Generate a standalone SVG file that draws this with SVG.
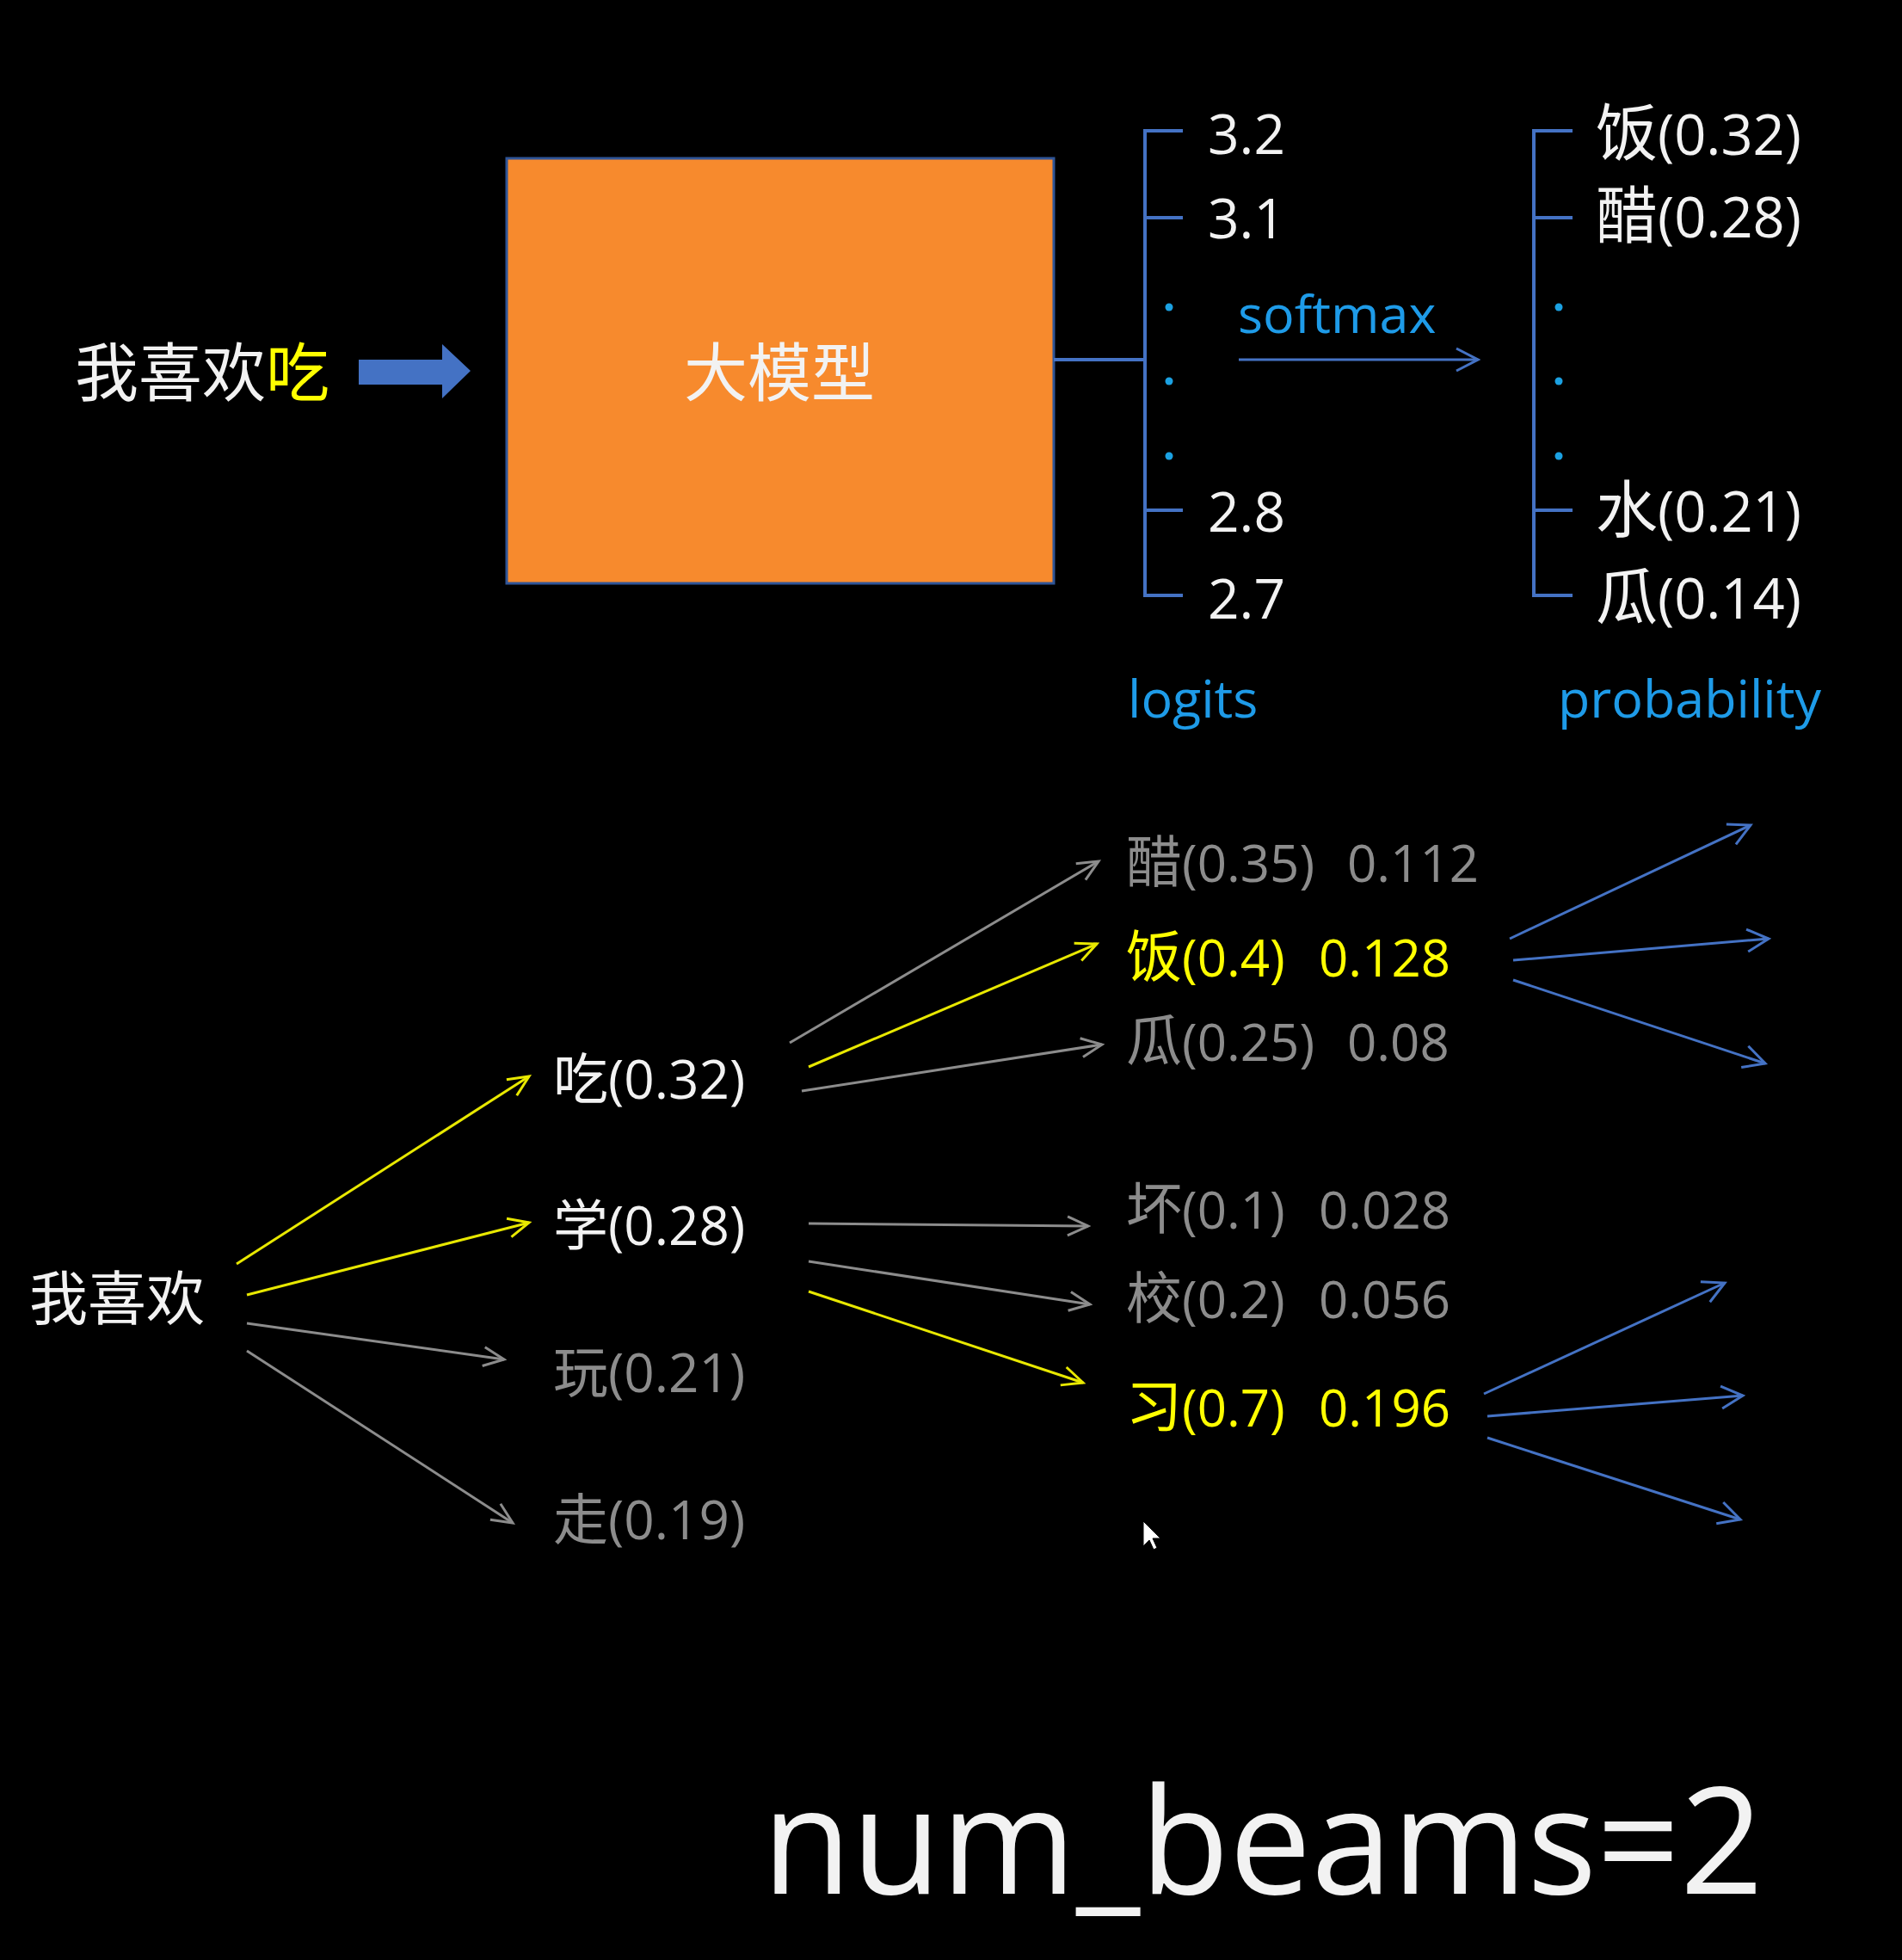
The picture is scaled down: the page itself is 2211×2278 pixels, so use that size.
<svg xmlns="http://www.w3.org/2000/svg" width="2211" height="2278" viewBox="0 0 2211 2278">
<style>
text { font-family: "Open Sans", "Noto Sans CJK SC", sans-serif; }
.w { fill: #F2F2F2; }
.y { fill: #FFFF00; }
.g { fill: #8C8C8C; }
.c { fill: #1E9BE8; }
.br { stroke: #4472C4; stroke-width: 4; fill: none; }
.ly { stroke: #E8E800; stroke-width: 3; fill: none; marker-end: url(#hy); }
.lg { stroke: #8C8C8C; stroke-width: 3; fill: none; marker-end: url(#hg); }
.lb { stroke: #4472C4; stroke-width: 3; fill: none; marker-end: url(#hb); }
</style>
<defs>
<marker id="hy" markerUnits="userSpaceOnUse" markerWidth="32" markerHeight="32" viewBox="0 0 32 32" refX="29" refY="16" orient="auto"><path d="M5,5 L29,16 L5,27" fill="none" stroke="#E8E800" stroke-width="3"/></marker>
<marker id="hg" markerUnits="userSpaceOnUse" markerWidth="32" markerHeight="32" viewBox="0 0 32 32" refX="29" refY="16" orient="auto"><path d="M5,5 L29,16 L5,27" fill="none" stroke="#8C8C8C" stroke-width="3"/></marker>
<marker id="hb" markerUnits="userSpaceOnUse" markerWidth="32" markerHeight="32" viewBox="0 0 32 32" refX="29" refY="16" orient="auto"><path d="M4,3 L29,16 L4,29" fill="none" stroke="#4472C4" stroke-width="3"/></marker>
</defs>
<rect x="0" y="0" width="2211" height="2278" fill="#000"/>

<g id="input">
<text x="87" y="460" font-size="74"><tspan class="w">我喜欢</tspan><tspan class="y">吃</tspan></text>
</g>
<g id="model">
<rect x="589" y="184" width="636" height="494" fill="#F78A2D" stroke="#2F5597" stroke-width="3"/>
<text x="906" y="460" font-size="74" text-anchor="middle" class="w">大模型</text>
</g>

<g id="logits">
<path class="br" d="M1375,152 H1331 V692 H1375 M1331,253 H1375 M1331,593 H1375"/>
<circle cx="1359" cy="357" r="4.5" fill="#1BA1E2"/>
<circle cx="1359" cy="443" r="4.5" fill="#1BA1E2"/>
<circle cx="1359" cy="530" r="4.5" fill="#1BA1E2"/>
<g class="w" font-size="64">
<text x="1404" y="179">3.2</text>
<text x="1404" y="277">3.1</text>
<text x="1404" y="618">2.8</text>
<text x="1404" y="719">2.7</text>
</g>
<text x="1311" y="834" font-size="61" class="c">logits</text>
</g>

<g id="probability">
<path class="br" d="M1828,152 H1783 V692 H1828 M1783,253 H1828 M1783,593 H1828"/>
<circle cx="1812" cy="357" r="4.5" fill="#1BA1E2"/>
<circle cx="1812" cy="443" r="4.5" fill="#1BA1E2"/>
<circle cx="1812" cy="530" r="4.5" fill="#1BA1E2"/>
<g class="w">
<text x="1855" y="180"><tspan font-size="72">饭</tspan><tspan font-size="65">(0.32)</tspan></text>
<text x="1855" y="276"><tspan font-size="72">醋</tspan><tspan font-size="65">(0.28)</tspan></text>
<text x="1855" y="618"><tspan font-size="72">水</tspan><tspan font-size="65">(0.21)</tspan></text>
<text x="1855" y="719"><tspan font-size="72">瓜</tspan><tspan font-size="65">(0.14)</tspan></text>
</g>
<text x="1811" y="834" font-size="61" class="c">probability</text>
</g>

<g id="softmax">
<text x="1439" y="387" font-size="61" class="c">softmax</text>
</g>

<g id="root">
<text x="34" y="1534" font-size="68" class="w">我喜欢</text>
</g>
<g id="l1-chi"><text x="643" y="1277" class="w"><tspan font-size="64">吃</tspan><tspan font-size="62">(0.32)</tspan></text></g>
<g id="l1-xue"><text x="643" y="1447" class="w"><tspan font-size="64">学</tspan><tspan font-size="62">(0.28)</tspan></text></g>
<g id="l1-wan"><text x="643" y="1618" class="g"><tspan font-size="64">玩</tspan><tspan font-size="62">(0.21)</tspan></text></g>
<g id="l1-zou"><text x="643" y="1789" class="g"><tspan font-size="64">走</tspan><tspan font-size="62">(0.19)</tspan></text></g>

<g id="l2-cu"><text x="1309" y="1025" class="g"><tspan font-size="65">醋</tspan><tspan font-size="60">(0.35)</tspan><tspan font-size="60" x="1566">0.112</tspan></text></g>
<g id="l2-fan"><text x="1309" y="1135" class="y"><tspan font-size="65">饭</tspan><tspan font-size="60">(0.4)</tspan><tspan font-size="60" x="1533">0.128</tspan></text></g>
<g id="l2-gua"><text x="1309" y="1233" class="g"><tspan font-size="65">瓜</tspan><tspan font-size="60">(0.25)</tspan><tspan font-size="60" x="1566">0.08</tspan></text></g>
<g id="l2-huai"><text x="1309" y="1428" class="g"><tspan font-size="65">坏</tspan><tspan font-size="60">(0.1)</tspan><tspan font-size="60" x="1533">0.028</tspan></text></g>
<g id="l2-xiao"><text x="1309" y="1532" class="g"><tspan font-size="65">校</tspan><tspan font-size="60">(0.2)</tspan><tspan font-size="60" x="1533">0.056</tspan></text></g>
<g id="l2-xi"><text x="1309" y="1658" class="y"><tspan font-size="65">习</tspan><tspan font-size="60">(0.7)</tspan><tspan font-size="60" x="1533">0.196</tspan></text></g>

<g id="connectors">
<polygon points="417,418 514,418 514,400 547,431 514,463 514,447 417,447" fill="#4472C4"/>
<line x1="1225" y1="418" x2="1331" y2="418" stroke="#4472C4" stroke-width="4"/>
<line class="lb" x1="1440" y1="418" x2="1718" y2="418"/>

<line class="ly" x1="275" y1="1469" x2="615" y2="1251"/>
<line class="ly" x1="287" y1="1505" x2="615" y2="1421"/>
<line class="lg" x1="287" y1="1538" x2="586" y2="1580"/>
<line class="lg" x1="287" y1="1570" x2="596" y2="1770"/>

<line class="lg" x1="918" y1="1212" x2="1277" y2="1001"/>
<line class="ly" x1="940" y1="1240" x2="1275" y2="1097"/>
<line class="lg" x1="932" y1="1268" x2="1281" y2="1214"/>

<line class="lg" x1="940" y1="1422" x2="1265" y2="1425"/>
<line class="lg" x1="940" y1="1466" x2="1267" y2="1516"/>
<line class="ly" x1="940" y1="1501" x2="1259" y2="1607"/>

<line class="lb" x1="1755" y1="1091" x2="2035" y2="959"/>
<line class="lb" x1="1759" y1="1116" x2="2056" y2="1091"/>
<line class="lb" x1="1759" y1="1139" x2="2052" y2="1236"/>
<line class="lb" x1="1725" y1="1620" x2="2005" y2="1491"/>
<line class="lb" x1="1729" y1="1646" x2="2026" y2="1622"/>
<line class="lb" x1="1729" y1="1671" x2="2023" y2="1766"/>
</g>

<g id="cursor">
<path d="M1329,1768 L1329,1797 L1336,1790 L1341,1801 L1345,1799 L1340,1788 L1349,1788 Z" fill="#FFFFFF" stroke="#000" stroke-width="1"/>
</g>

<g id="title">
<text x="886" y="2201" font-size="172" class="w" textLength="1164" lengthAdjust="spacingAndGlyphs">num_beams=2</text>
</g>
</svg>
